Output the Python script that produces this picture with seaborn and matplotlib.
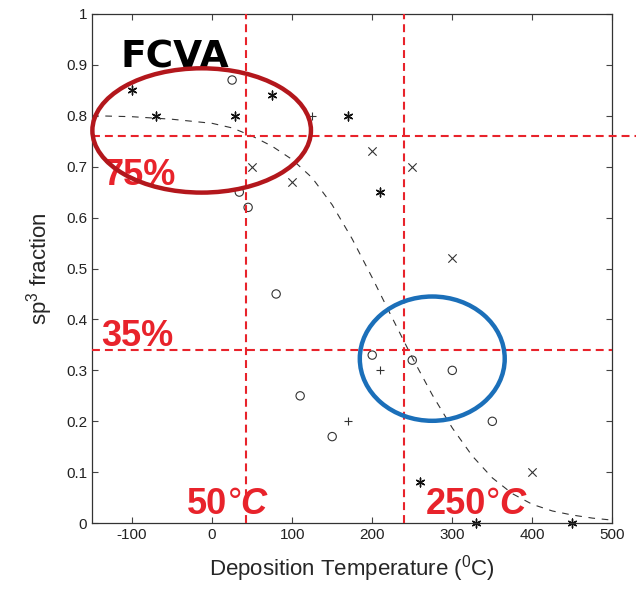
import matplotlib
matplotlib.use("Agg")
import matplotlib.pyplot as plt
from matplotlib.patches import Ellipse
import pandas as pd
import seaborn as sns

circle_T = [25, 34, 45, 80, 110, 150, 200, 250, 300, 350]
circle_sp3 = [0.87, 0.65, 0.62, 0.45, 0.25, 0.17, 0.33, 0.32, 0.30, 0.20]
cross_T = [50, 100, 200, 250, 300, 400]
cross_sp3 = [0.70, 0.67, 0.73, 0.70, 0.52, 0.10]
plus_T = [125, 170, 210]
plus_sp3 = [0.80, 0.20, 0.30]
star_T = [-100, -70, 28, 75, 170, 210, 260, 330, 450]
star_sp3 = [0.85, 0.80, 0.80, 0.84, 0.80, 0.65, 0.08, 0.0, 0.0]

# dashed fit curve
fit_T = [-150, -100, -50, 0, 25, 50, 75, 100, 125, 150, 175, 200, 225, 250,
         275, 300, 325, 350, 375, 400, 425, 450, 475, 500]
fit_sp3 = [0.800, 0.798, 0.793, 0.785, 0.776, 0.760, 0.740, 0.714, 0.678, 0.625,
           0.558, 0.482, 0.403, 0.325, 0.252, 0.187, 0.132, 0.089, 0.058, 0.037,
           0.024, 0.016, 0.010, 0.006]

# guide lines
guide_T = [42, 240]
guide_sp3 = [0.76, 0.34]

x_ticks = [-100, 0, 100, 200, 300, 400, 500]
y_ticks = [0, 0.1, 0.2, 0.3, 0.4, 0.5, 0.6, 0.7, 0.8, 0.9, 1]
y_tick_labels = ["0", "0.1", "0.2", "0.3", "0.4", "0.5", "0.6", "0.7", "0.8", "0.9", "1"]

sns.set_style("ticks")
plt.rcParams["font.family"] = ["Liberation Sans", "DejaVu Sans"]
plt.rcParams["mathtext.fontset"] = "custom"
plt.rcParams["mathtext.rm"] = "Liberation Sans"
plt.rcParams["axes.unicode_minus"] = False

fig = plt.figure(figsize=(6.37, 6.0), dpi=100)
ax = fig.add_axes([0.1444, 0.128, 0.817, 0.849])

ink = "#333333"
red = "#e8232b"

sns.lineplot(x=fit_T, y=fit_sp3, ax=ax, color=ink, lw=0.8, dashes=False,
             linestyle=(0, (6, 6)))

sns.scatterplot(x=circle_T, y=circle_sp3, ax=ax, marker="o", s=36,
                facecolors="none", edgecolor=ink, linewidth=0.8)
sns.scatterplot(x=cross_T, y=cross_sp3, ax=ax, marker="x", s=36,
                color=ink, linewidth=0.8)
sns.scatterplot(x=plus_T, y=plus_sp3, ax=ax, marker="+", s=32,
                color=ink, linewidth=0.8)
sns.scatterplot(x=star_T, y=star_sp3, ax=ax, marker=(6, 2, 0), s=40,
                color="#111111", linewidth=1.0, clip_on=False)

dash = (0, (3.8, 2.4))
for t in guide_T:
    ax.axvline(t, color=red, lw=1.5, linestyle=dash, zorder=4)
ax.axhline(guide_sp3[0], 0, 1.045, color=red, lw=1.5, linestyle=dash,
           clip_on=False, zorder=4)
ax.axhline(guide_sp3[1], 0, 1.0, color=red, lw=1.5, linestyle=dash, zorder=4)

ax.add_patch(Ellipse((-13, 0.771), 273, 0.244, fill=False, ec="#b3171c",
                     lw=3.2, clip_on=False, zorder=5))
ax.add_patch(Ellipse((275, 0.323), 181, 0.244, fill=False, ec="#1b6fb9",
                     lw=3.2, zorder=5))

ax.text(-114, 0.894, "FCVA", fontsize=27, fontweight="bold", color="black",
        family="DejaVu Sans")
ax.text(-136, 0.664, "75%", fontsize=26, fontweight="bold", color=red)
ax.text(-139, 0.347, "35%", fontsize=26, fontweight="bold", color=red)

for x0, num in [(-31, "50"), (267, "250")]:
    t1 = ax.text(x0, 0.019, num, fontsize=26, fontweight="bold", color=red)
    t2 = ax.annotate("°", xy=(1, 0), xycoords=t1, xytext=(0, 0),
                     textcoords="offset points", fontsize=26, color=red,
                     va="bottom", ha="left")
    ax.annotate("C", xy=(1, 0), xycoords=t2, xytext=(-1, 0),
                textcoords="offset points", fontsize=26, fontweight="bold",
                style="italic", color=red, va="bottom", ha="left")

ax.set_xlim(-150, 500)
ax.set_ylim(0, 1)
ax.set_xticks(x_ticks)
ax.set_yticks(y_ticks)
ax.set_yticklabels(y_tick_labels)
ax.tick_params(direction="in", top=True, right=True, length=4, width=0.8,
               labelsize=11, labelcolor="#222222", color="#444444")
for sp in ax.spines.values():
    sp.set_linewidth(0.9)
    sp.set_color("#333333")

ax.set_xlabel("Deposition Temperature ($^{0}$C)", fontsize=16, labelpad=8)
ax.set_ylabel("sp$^{3}$ fraction", fontsize=16, labelpad=8)

fig.savefig("out.png", dpi=100)
